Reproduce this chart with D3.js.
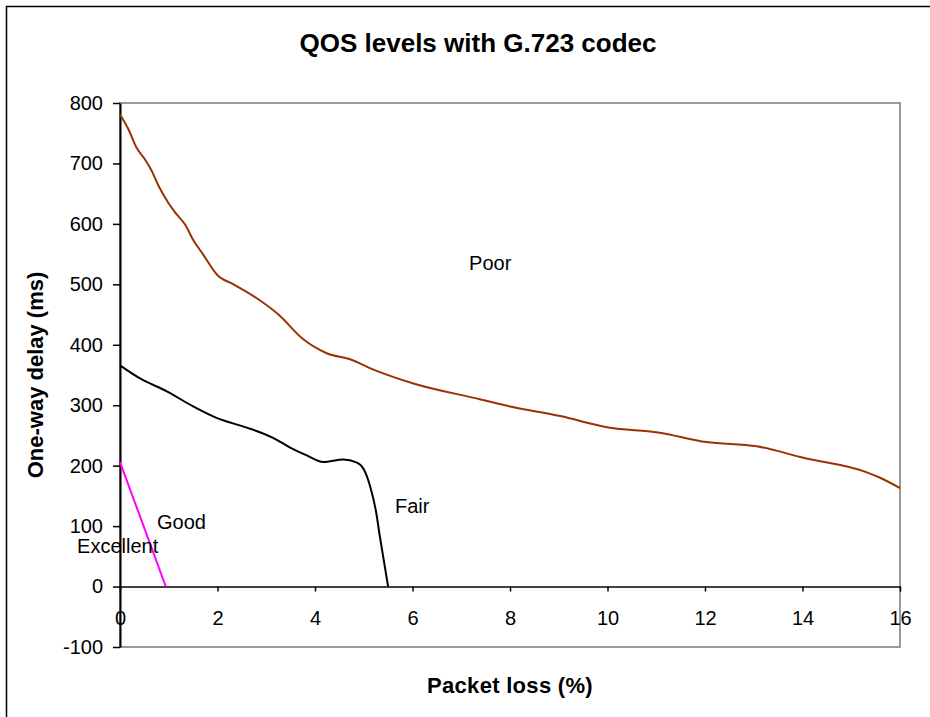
<!DOCTYPE html>
<html>
<head>
<meta charset="utf-8">
<script src="https://cdn.jsdelivr.net/npm/d3@7"></script>
<style>
body { margin: 0; background: #fff; }
text { font-family: "Liberation Sans", Arial, sans-serif; fill: #000; }
</style>
</head>
<body>
<div id="graph"></div>
<script>
// boundary curves (packet loss %, delay ms)
const poor_loss  = [0, 0.17, 0.34, 0.51, 0.65, 0.79, 0.99, 1.16, 1.35, 1.49, 1.70, 2.0, 2.33, 2.73, 3.25, 3.76, 4.24, 4.72, 5.2, 6.02, 7.38, 8.0, 9.03, 10.02, 11.04, 12.03, 13.06, 14.02, 15.32, 15.59, 16.0];
const poor_delay = [781, 757, 726, 707, 688, 663, 635, 616, 597, 575, 550, 515, 500, 481, 450, 409, 386, 376, 359, 336, 310, 298, 282, 263, 255, 239, 232, 213, 189, 180, 163];

const fair_loss  = [0, 0.44, 0.96, 1.5, 1.98, 2.6, 3.14, 3.49, 3.83, 4.17, 4.58, 4.86, 5.0, 5.13, 5.25, 5.33, 5.5];
const fair_delay = [366, 343, 323, 298, 279, 263, 246, 230, 217, 206, 210, 205, 194, 166, 125, 83, 0];

const good_loss  = [0, 0.94];
const good_delay = [206, 0];

const x_ticks = [0, 2, 4, 6, 8, 10, 12, 14, 16];
const y_ticks = [-100, 0, 100, 200, 300, 400, 500, 600, 700, 800];

const zone_names = ["Poor", "Fair", "Good", "Excellent"];
const zone_loss  = [7.16, 5.64, 0.76, -0.88];
const zone_delay = [523, 122, 96, 56];

const width = 930, height = 717;
const margin = {top: 103, right: 30, bottom: 70, left: 120};
const plot_w = width - margin.left - margin.right;
const plot_h = height - margin.top - margin.bottom;

let root = d3.select("#graph")
    .append("svg")
    .attr("width", width)
    .attr("height", height);

// outer chart frame (only left/top edges fall inside the picture)
root.append("rect")
    .attr("x", 6.5).attr("y", 6.5)
    .attr("width", 1000).attr("height", 1000)
    .attr("fill", "none")
    .attr("stroke", "#000")
    .attr("stroke-width", 1.5);

root.append("text")
    .attr("x", 478)
    .attr("y", 52)
    .style("text-anchor", "middle")
    .style("font-size", "26px")
    .style("font-weight", "bold")
    .text("QOS levels with G.723 codec");

let svg = root.append("g")
    .attr("transform", `translate(${margin.left}, ${margin.top})`);

let x = d3.scaleLinear().domain([0, 16]).range([0, plot_w]);
let y = d3.scaleLinear().domain([-100, 800]).range([plot_h, 0]);

// plot area border
svg.append("rect")
    .attr("width", plot_w)
    .attr("height", plot_h)
    .attr("fill", "none")
    .attr("stroke", "#999")
    .attr("stroke-width", 2);

let yaxis = svg.append("g")
    .call(d3.axisLeft(y).tickValues(y_ticks).tickFormat(d => String(d))
        .tickSize(7).tickSizeOuter(0).tickPadding(10));
yaxis.select(".domain").attr("stroke", "#000").attr("stroke-width", 2);
yaxis.selectAll(".tick line").attr("stroke-width", 1.5);
yaxis.selectAll("text").style("font-size", "20px").attr("fill", "#000");

let xaxis = svg.append("g")
    .attr("transform", `translate(0, ${y(0)})`)
    .call(d3.axisBottom(x).tickValues(x_ticks).tickFormat(d => String(d))
        .tickSize(5).tickSizeOuter(0).tickPadding(19));
xaxis.select(".domain").attr("stroke", "#000").attr("stroke-width", 1.5);
xaxis.selectAll(".tick line").attr("stroke-width", 1.5);
xaxis.selectAll("text").style("font-size", "20px").attr("fill", "#000");

let line = d3.line()
    .x(d => x(d[0]))
    .y(d => y(d[1]))
    .curve(d3.curveMonotoneX);

function draw_curve(xs, ys, color) {
    svg.append("path")
        .datum(xs.map((v, i) => [v, ys[i]]))
        .attr("fill", "none")
        .attr("stroke", color)
        .attr("stroke-width", 2)
        .attr("d", line);
}

draw_curve(poor_loss, poor_delay, "#993300");
draw_curve(fair_loss, fair_delay, "#000000");
draw_curve(good_loss, good_delay, "#ff00ff");

svg.selectAll(".zone")
    .data(zone_names)
    .enter()
    .append("text")
    .attr("class", "zone")
    .attr("x", (d, i) => x(zone_loss[i]))
    .attr("y", (d, i) => y(zone_delay[i]))
    .style("font-size", "20px")
    .text(d => d);

// axis titles
root.append("text")
    .attr("x", margin.left + plot_w / 2)
    .attr("y", 693)
    .style("text-anchor", "middle")
    .style("font-size", "22px")
    .style("font-weight", "bold")
    .style("letter-spacing", "0.3px")
    .text("Packet loss (%)");

root.append("text")
    .attr("transform", `translate(43, ${margin.top + plot_h / 2}) rotate(-90)`)
    .style("text-anchor", "middle")
    .style("font-size", "22px")
    .style("font-weight", "bold")
    .text("One-way delay (ms)");
</script>
</body>
</html>
